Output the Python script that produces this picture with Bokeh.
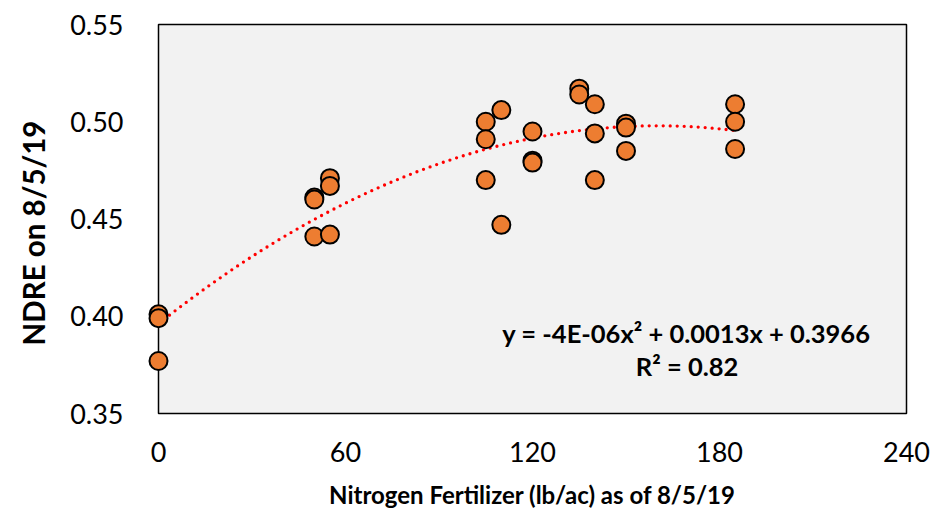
import numpy as np
from bokeh.plotting import figure
from bokeh.models import ColumnDataSource, Label, FixedTicker, CustomJSTickFormatter, Range1d, Title
from bokeh.embed import file_html
from bokeh.resources import INLINE

# Data
nitrogen = [0, 0, 0,
            50, 50, 50,
            55, 55, 55,
            105, 105, 105,
            110, 110,
            120, 120, 120,
            135, 135,
            140, 140, 140,
            150, 150, 150,
            185, 185, 185]
ndre = [0.401, 0.399, 0.377,
        0.461, 0.460, 0.441,
        0.471, 0.467, 0.442,
        0.500, 0.491, 0.470,
        0.506, 0.447,
        0.495, 0.480, 0.479,
        0.517, 0.514,
        0.509, 0.494, 0.470,
        0.499, 0.497, 0.485,
        0.509, 0.500, 0.486]

x_ticks = [0, 60, 120, 180, 240]
y_ticks = [0.35, 0.40, 0.45, 0.50, 0.55]
x_title = "Nitrogen Fertilizer (lb/ac) as of 8/5/19"
y_title = "NDRE on 8/5/19"
equation_text = "y = -4E-06x\u00b2 + 0.0013x + 0.3966"
r2_text = "R\u00b2 = 0.82"

# Quadratic trendline fitted to the data
coef = np.polyfit(nitrogen, ndre, 2)
trend_x = np.linspace(min(nitrogen), max(nitrogen), 200)
trend_y = np.polyval(coef, trend_x)

FONT = "Lato"

p = figure(width=933, height=517, output_backend="svg", toolbar_location=None,
           x_range=Range1d(0, 240), y_range=Range1d(0.35, 0.55),
           min_border_left=158, min_border_right=27, min_border_top=24, min_border_bottom=104)

p.background_fill_color = "#F2F2F2"
p.border_fill_color = "white"
p.outline_line_color = "black"
p.outline_line_width = 1.5
p.xgrid.visible = False
p.ygrid.visible = False

p.line(trend_x, trend_y, line_color="red", line_width=3.3, line_dash="0 7", line_cap="round")

src = ColumnDataSource(dict(x=nitrogen, y=ndre))
r = p.scatter("x", "y", source=src, size=18, fill_color="#ED7D31", line_color="black", line_width=2)
r.level = "overlay"

for ax in (p.xaxis[0], p.yaxis[0]):
    ax.axis_line_color = None
    ax.major_tick_line_color = None
    ax.minor_tick_line_color = None
    ax.major_label_text_font = FONT
    ax.major_label_text_font_size = "27px"
    ax.major_label_text_color = "black"
    ax.axis_label_text_font = FONT
    ax.axis_label_text_font_style = "bold"
    ax.axis_label_text_color = "black"

p.xaxis.axis_label_text_font_size = "24px"
p.xaxis.ticker = FixedTicker(ticks=x_ticks)
p.yaxis.ticker = FixedTicker(ticks=y_ticks)
p.yaxis.formatter = CustomJSTickFormatter(code="return tick.toFixed(2);")
p.xaxis.major_label_standoff = 22
p.yaxis.major_label_standoff = 29
p.xaxis.axis_label = x_title
p.xaxis.axis_label_standoff = 15

# y-axis title as a side title (sits slightly below the frame centre, as in the reference)
p.add_layout(Title(text=y_title, align="left", offset=68, standoff=30, vertical_align="top",
                   text_font=FONT, text_font_style="bold", text_font_size="29.5px",
                   text_color="black"), "left")

p.add_layout(Label(x=169.4, y=0.3916, text=equation_text, text_align="center", text_baseline="middle",
                   text_font=FONT, text_font_style="bold", text_font_size="25.5px", text_color="black"))
p.add_layout(Label(x=169.6, y=0.3742, text=r2_text, text_align="center", text_baseline="middle",
                   text_font=FONT, text_font_style="bold", text_font_size="25.5px", text_color="black"))

open("out.html", "w").write(file_html(p, INLINE))
